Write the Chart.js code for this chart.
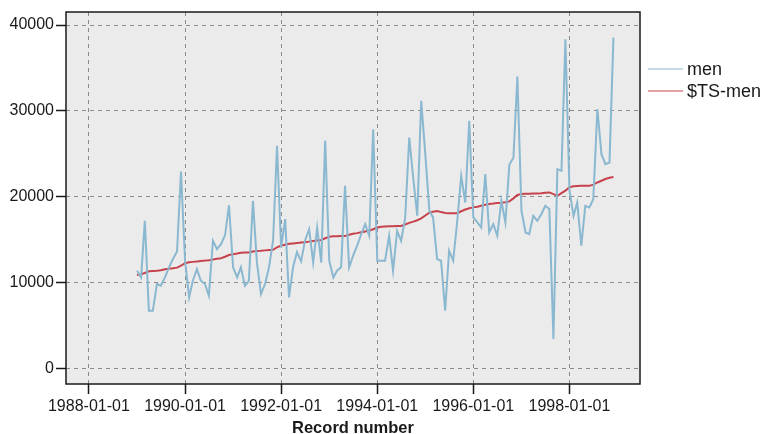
<!DOCTYPE html>
<html lang="en">
<head>
    <meta charset="UTF-8">
    <title>men / $TS-men</title>
    <script src="https://cdn.jsdelivr.net/npm/chart.js"></script>
    <style>
        body {
            margin: 0;
            background: white;
        }

        canvas {
            display: block;
        }
    </style>
</head>
<body>
    <canvas id="chart" width="764" height="434"></canvas>

    <script>
        // Monthly series, January 1989 to December 1998
        const startYear = 1989;
        const men = [
            11370, 10590, 17190, 6710, 6710, 9820, 9620, 10590, 11760, 12730, 13620, 22930,
            12500, 8260, 10200, 11560, 10200, 9820, 8460, 14860, 13890, 14470, 15500, 19000,
            11760, 10590, 11760, 9620, 10200, 19520, 12340, 8650, 9820, 11760, 14860, 25920,
            14080, 17380, 8260, 11800, 13550, 12450, 14900, 16200, 12300, 16400, 12300, 26500,
            12530, 10590, 11370, 11760, 21260, 11760, 13110, 14280, 15640, 16800, 15440, 27860,
            12530, 12530, 12530, 15440, 11370, 16020, 14860, 17500, 26890, 22230, 17770, 31160,
            24950, 18350, 17580, 12730, 12530, 6710, 13700, 12530, 17190, 22430, 19320, 28830,
            17580, 16990, 16410, 22620, 15830, 16800, 15440, 19520, 16990, 23750, 24530, 34000,
            18350, 15830, 15640, 17770, 17190, 17960, 18930, 18550, 3410, 23200, 23010, 38330,
            20680, 17770, 19320, 14280, 18930, 18740, 19710, 30190, 24950, 23780, 23980, 38530
        ];
        const tsMen = [
            10870, 10950, 11100, 11300, 11350, 11380, 11420, 11550, 11600, 11650, 11730, 11950,
            12250, 12350, 12400, 12450, 12510, 12550, 12600, 12680, 12760, 12830, 13000, 13200,
            13300, 13380, 13470, 13490, 13500, 13600, 13680, 13700, 13740, 13780, 13800, 14100,
            14300, 14400, 14500, 14550, 14600, 14650, 14700, 14760, 14820, 14880, 14950, 15150,
            15340, 15380, 15400, 15410, 15420, 15550, 15680, 15750, 15850, 15950, 16050, 16200,
            16400, 16500, 16520, 16540, 16550, 16570, 16580, 16750, 16950, 17090, 17250, 17480,
            17800, 18140, 18250, 18330, 18200, 18100, 18080, 18070, 18070, 18300, 18500, 18650,
            18750, 18830, 18950, 19050, 19150, 19200, 19260, 19300, 19360, 19450, 19800, 20200,
            20300, 20330, 20350, 20360, 20370, 20400, 20450, 20490, 20300, 20100, 20400, 20700,
            21100, 21200, 21250, 21260, 21260, 21260, 21400, 21650, 21850, 22050, 22200, 22300
        ];
        const xTickYears = [1988, 1990, 1992, 1994, 1996, 1998];
        const yTicks = [0, 10000, 20000, 30000, 40000];

        const FONT = "'Liberation Sans', Arial, sans-serif";
        const BLUE = 'rgb(138, 184, 208)';
        const RED = 'rgb(198, 66, 76)';

        const monthDate = i => Date.UTC(startYear + Math.floor(i / 12), i % 12, 1);
        const toPoints = arr => arr.map((v, i) => ({ x: monthDate(i), y: v }));

        // plot background and frame
        const frame = {
            id: 'frame',
            beforeDraw(chart) {
                const { ctx, chartArea: a } = chart;
                ctx.save();
                ctx.fillStyle = '#ebebeb';
                ctx.fillRect(a.left, a.top, a.right - a.left, a.bottom - a.top);
                ctx.restore();
            },
            afterDraw(chart) {
                const { ctx, chartArea: a } = chart;
                ctx.save();
                ctx.strokeStyle = '#1a1a1a';
                ctx.lineWidth = 1.5;
                ctx.strokeRect(a.left, a.top, a.right - a.left, a.bottom - a.top);
                ctx.restore();
            }
        };

        // legend to the right of the plot
        const sideLegend = {
            id: 'sideLegend',
            afterDraw(chart) {
                const ctx = chart.ctx;
                const x = chart.chartArea.right + 8;
                ctx.save();
                ctx.font = '18px ' + FONT;
                ctx.textBaseline = 'middle';
                ctx.fillStyle = '#1a1a1a';
                chart.data.datasets.forEach((ds, i) => {
                    const y = 69 + i * 22;
                    ctx.strokeStyle = ds.borderColor;
                    ctx.lineWidth = 1.2;
                    ctx.beginPath();
                    ctx.moveTo(x, y);
                    ctx.lineTo(x + 35, y);
                    ctx.stroke();
                    ctx.fillText(ds.label, x + 39, y + 1);
                });
                ctx.restore();
            }
        };

        const gridStyle = {
            color: '#8a8a8a',
            lineWidth: 1,
            tickLength: 10,
            tickColor: '#1a1a1a',
            tickWidth: 1.5
        };

        new Chart(document.getElementById('chart'), {
            type: 'line',
            data: {
                datasets: [
                    { label: 'men', data: toPoints(men), borderColor: BLUE, borderWidth: 2 },
                    { label: '$TS-men', data: toPoints(tsMen), borderColor: RED, borderWidth: 2 }
                ]
            },
            options: {
                responsive: false,
                animation: false,
                events: [],
                elements: { point: { radius: 0 }, line: { tension: 0 } },
                layout: { padding: { left: 0, right: 124, top: 12, bottom: 0 } },
                plugins: { legend: { display: false }, tooltip: { enabled: false } },
                scales: {
                    x: {
                        type: 'linear',
                        min: Date.UTC(1987, 6, 11),
                        max: Date.UTC(1999, 5, 21),
                        afterBuildTicks: s => { s.ticks = xTickYears.map(y => ({ value: Date.UTC(y, 0, 1) })); },
                        afterFit: s => { s.height = 50; },
                        grid: gridStyle,
                        border: { display: false, dash: [4, 4] },
                        ticks: {
                            autoSkip: false,
                            maxRotation: 0,
                            padding: 3,
                            color: '#1a1a1a',
                            font: { family: FONT, size: 16 },
                            callback: v => new Date(v).toISOString().slice(0, 10)
                        },
                        title: {
                            display: true,
                            text: 'Record number',
                            color: '#1a1a1a',
                            padding: { top: 0, bottom: -2.5 },
                            font: { family: FONT, size: 16.5, weight: 'bold', lineHeight: 1 }
                        }
                    },
                    y: {
                        min: -1830,
                        max: 41515,
                        afterBuildTicks: s => { s.ticks = yTicks.map(v => ({ value: v })); },
                        afterFit: s => { s.width = 66; },
                        grid: gridStyle,
                        border: { display: false, dash: [4, 4] },
                        ticks: {
                            padding: 2,
                            color: '#1a1a1a',
                            font: { family: FONT, size: 16 },
                            callback: v => String(v)
                        }
                    }
                }
            },
            plugins: [frame, sideLegend]
        });
    </script>
</body>
</html>
